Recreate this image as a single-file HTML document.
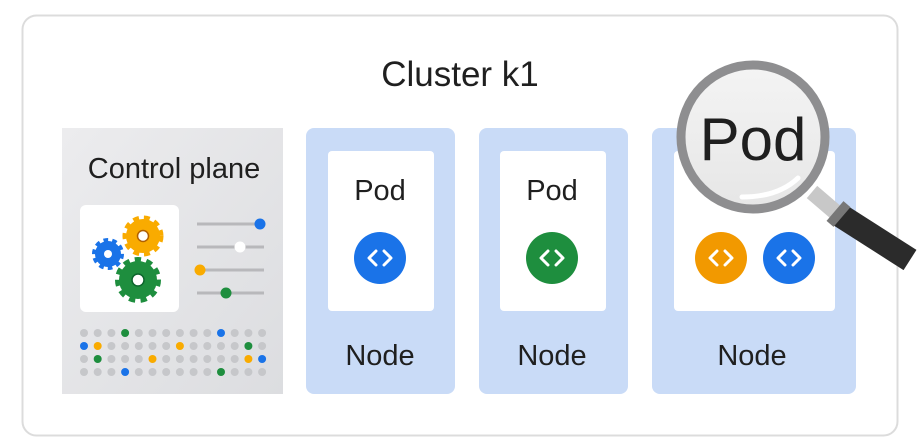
<!DOCTYPE html>
<html><head><meta charset="utf-8"><style>
html,body{margin:0;padding:0;background:#fff;width:923px;height:441px;overflow:hidden}
svg{display:block}
text{font-family:"Liberation Sans",sans-serif;fill:#1f1f1f}
</style></head><body>
<svg width="923" height="441" viewBox="0 0 923 441" xmlns="http://www.w3.org/2000/svg">
<defs>
<linearGradient id="cp" x1="0" y1="0" x2="1" y2="1"><stop offset="0" stop-color="#ececee"/><stop offset="1" stop-color="#dcdde0"/></linearGradient>
<linearGradient id="lens" x1="0" y1="0" x2="0" y2="1"><stop offset="0" stop-color="#f4f4f4"/><stop offset="1" stop-color="#e6e6e6"/></linearGradient>
</defs>
<rect x="22.5" y="15.5" width="875" height="420" rx="14" fill="#fff" stroke="#dcdcdc" stroke-width="2"/>
<text x="460" y="86" font-size="35" text-anchor="middle">Cluster k1</text>

<rect x="62" y="128" width="221" height="266" fill="url(#cp)"/>
<text x="174" y="178" font-size="29" text-anchor="middle">Control plane</text>
<rect x="80" y="205" width="99" height="107" rx="6" fill="#fff"/>
<g>
<circle cx="143" cy="236" r="17" fill="#f9ab00" stroke="#f9ab00" stroke-width="7" stroke-dasharray="5.5 4.6"/>
<circle cx="143" cy="236" r="16" fill="#f9ab00"/>
<circle cx="143" cy="236" r="5.5" fill="#fff" stroke="#b06000" stroke-width="1.5"/>
<circle cx="108" cy="254" r="13" fill="#1a73e8" stroke="#1a73e8" stroke-width="6" stroke-dasharray="4.3 3.8"/>
<circle cx="108" cy="254" r="12" fill="#1a73e8"/>
<circle cx="108" cy="254" r="4" fill="#fff"/>
<circle cx="138" cy="280" r="19" fill="#1e8e3e" stroke="#1e8e3e" stroke-width="8" stroke-dasharray="5.8 5"/>
<circle cx="138" cy="280" r="18" fill="#1e8e3e"/>
<circle cx="138" cy="280" r="6" fill="#fff" stroke="#0d652d" stroke-width="1.5"/>
</g>
<g stroke="#b8b8bb" stroke-width="3">
<line x1="197" y1="224" x2="264" y2="224"/><line x1="197" y1="247" x2="264" y2="247"/>
<line x1="197" y1="270" x2="264" y2="270"/><line x1="197" y1="293" x2="264" y2="293"/>
</g>
<circle cx="260" cy="224" r="5.5" fill="#1a73e8"/>
<circle cx="240" cy="247" r="5.5" fill="#fff"/>
<circle cx="200" cy="270" r="5.5" fill="#f9ab00"/>
<circle cx="226" cy="293" r="5.5" fill="#1e8e3e"/>
<g id="dots"></g>

<rect x="306" y="128" width="149" height="266" rx="8" fill="#c9dbf7"/>
<rect x="328" y="151" width="106" height="160" rx="4" fill="#fff"/>
<text x="380" y="200" font-size="29" text-anchor="middle">Pod</text>
<text x="380" y="365" font-size="29" text-anchor="middle">Node</text>
<rect x="479" y="128" width="149" height="266" rx="8" fill="#c9dbf7"/>
<rect x="500" y="151" width="106" height="160" rx="4" fill="#fff"/>
<text x="552" y="200" font-size="29" text-anchor="middle">Pod</text>
<text x="552" y="365" font-size="29" text-anchor="middle">Node</text>
<rect x="652" y="128" width="204" height="266" rx="8" fill="#c9dbf7"/>
<rect x="674" y="151" width="161" height="160" rx="4" fill="#fff"/>
<text x="752" y="365" font-size="29" text-anchor="middle">Node</text>

<g stroke="#fff" stroke-width="3" fill="none" stroke-linecap="round" stroke-linejoin="round">
<circle cx="380" cy="258" r="26" fill="#1a73e8" stroke="none"/>
<path d="M376 251l-7 7 7 7M384 251l7 7-7 7"/>
<circle cx="552" cy="258" r="26" fill="#1e8e3e" stroke="none"/>
<path d="M548 251l-7 7 7 7M556 251l7 7-7 7"/>
<circle cx="721" cy="258" r="26" fill="#f29900" stroke="none"/>
<path d="M717 251l-7 7 7 7M725 251l7 7-7 7"/>
<circle cx="789" cy="258" r="26" fill="#1a73e8" stroke="none"/>
<path d="M785 251l-7 7 7 7M793 251l7 7-7 7"/>
</g>

<line x1="812" y1="192" x2="840" y2="216" stroke="#c8c8c8" stroke-width="16"/>
<line x1="838" y1="214" x2="910" y2="260" stroke="#2b2b2b" stroke-width="24" stroke-linecap="butt"/>
<line x1="835" y1="211" x2="842" y2="217" stroke="#777" stroke-width="26"/>
<circle cx="753" cy="137" r="72" fill="url(#lens)" stroke="#8e8e90" stroke-width="9"/>
<path d="M742 197 Q778 197 798 178" stroke="#fff" stroke-width="5" fill="none" stroke-linecap="round"/>
<text x="753" y="160" font-size="60" text-anchor="middle">Pod</text>
</svg>
<script>
(function(){
var g=document.getElementById('dots');
var rows=[[3,'g',10,'b'],[0,'b',1,'y',7,'y',12,'g'],[1,'g',5,'y',12,'y',13,'b'],[3,'b',10,'g']];
var col={g:'#1e8e3e',b:'#1a73e8',y:'#f9ab00'};
for(var r=0;r<4;r++){var m={};for(var i=0;i<rows[r].length;i+=2)m[rows[r][i]]=col[rows[r][i+1]];
for(var c=0;c<14;c++){var e=document.createElementNS('http://www.w3.org/2000/svg','circle');
e.setAttribute('cx',84+c*13.7);e.setAttribute('cy',333+r*13);e.setAttribute('r',4);
e.setAttribute('fill',m[c]||'#c6c7ca');g.appendChild(e);}}
})();
</script>
</body></html>
